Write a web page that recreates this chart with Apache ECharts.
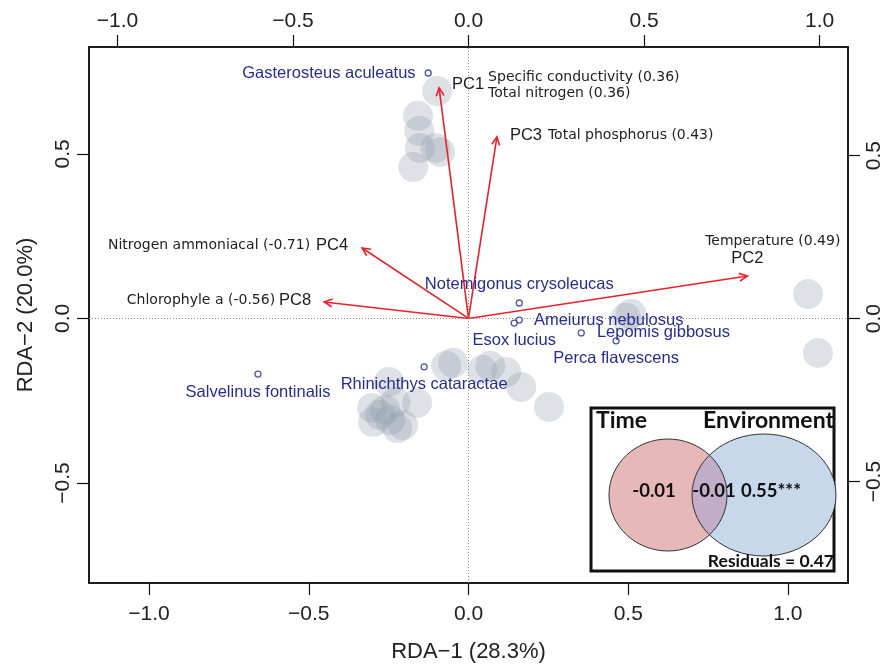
<!DOCTYPE html>
<html>
<head>
    <meta charset="UTF-8">
    <title>RDA biplot</title>
    <script type="text/javascript" src="https://cdn.jsdelivr.net/npm/echarts@6/dist/echarts.min.js"></script>
    <style>body{margin:0;background:#fff;}</style>
</head>
<body>
<div id="rda" style="width: 887px;height:664px;"></div>
<script>
    // site scores (grey discs)
    var siteX = [-0.098, -0.158, -0.154, -0.152, -0.104, -0.089, -0.173,
        -0.070, -0.048, 0.043, 0.068, 0.118, 0.165, 0.252,
        -0.249, -0.161, -0.229, -0.302, -0.261, -0.277, -0.299, -0.245, -0.205, -0.223,
        0.493, 0.509, 1.063, 1.094];
    var siteY = [0.691, 0.616, 0.570, 0.518, 0.518, 0.506, 0.460,
        -0.144, -0.135, -0.157, -0.144, -0.163, -0.208, -0.269,
        -0.193, -0.257, -0.254, -0.272, -0.278, -0.293, -0.315, -0.309, -0.324, -0.333,
        0.002, 0.014, 0.074, -0.105];

    // species scores
    var speciesNames = ['Gasterosteus aculeatus', 'Notemigonus crysoleucas', 'Ameiurus nebulosus', 'Esox lucius',
        'Lepomis gibbosus', 'Perca flavescens', 'Rhinichthys cataractae', 'Salvelinus fontinalis'];
    var speciesX = [-0.126, 0.159, 0.159, 0.143, 0.353, 0.462, -0.139, -0.659];
    var speciesY = [0.746, 0.047, -0.005, -0.014, -0.044, -0.068, -0.147, -0.169];

    // environmental arrows
    var arrowNames = ['PC1', 'PC3', 'PC4', 'PC8', 'PC2'];
    var arrowX = [-0.092, 0.089, -0.333, -0.452, 0.873];
    var arrowY = [0.701, 0.552, 0.214, 0.050, 0.129];
    var arrowVars = [
        ['Specific conductivity (0.36)', 'Total nitrogen (0.36)'],
        ['Total phosphorus (0.43)'],
        ['Nitrogen ammoniacal (-0.71)'],
        ['Chlorophyle a (-0.56)'],
        ['Temperature (0.49)']
    ];

    var tickValues = [-1, -0.5, 0, 0.5, 1];

    // variance partitioning inset
    var vennNames = ['Time', 'Environment'];
    var vennValues = ['-0.01', '-0.01', '0.55***'];
    var residualText = 'Residuals = 0.47';

    // label placement (layout only)
    var speciesLabelPos = ['left', 'top', 'right', 'bottom', 'right', 'bottom', 'bottom', 'bottom'];
    var speciesLabelDist = [9, 6, 11, 5, 12, 5, 5, 6];
    var arrowLayout = [
        {pc: [13, -3, 'left'], dx: 49, dy: [-10, 6], align: 'left'},
        {pc: [13, -1, 'left'], dx: 51, dy: [-1], align: 'left'},
        {pc: [-14, -3, 'right'], dx: -52, dy: [-3], align: 'right'},
        {pc: [-13, -2, 'right'], dx: -49, dy: [-2], align: 'right'},
        {pc: [0, -18, 'center'], dx: 93, dy: [-35], align: 'right'}
    ];

    var RED = '#e8222b';
    var BLUE = '#262d8e';

    function fmt(v) {
        return (v < 0 ? '\u2212' : '') + Math.abs(v).toFixed(1);
    }

    var tickText = {fontFamily: 'Liberation Sans', fontSize: 21, color: '#222'};

    function axisBase(pos, min, max, margin, rotate) {
        return {
            type: 'value', position: pos, min: min, max: max,
            splitLine: {show: false},
            axisLine: {show: true, onZero: false, lineStyle: {color: '#111', width: 1.5}},
            axisTick: {show: true, length: 12, customValues: tickValues, lineStyle: {color: '#111', width: 1.2}},
            axisLabel: {
                customValues: tickValues, formatter: fmt, margin: margin, rotate: rotate || 0,
                fontFamily: tickText.fontFamily, fontSize: tickText.fontSize, color: tickText.color
            }
        };
    }

    var xBottom = axisBase('bottom', -1.188, 1.188, 21);
    xBottom.name = 'RDA\u22121 (28.3%)';
    xBottom.nameLocation = 'middle';
    xBottom.nameGap = 58;
    xBottom.nameTextStyle = {fontFamily: 'Liberation Sans', fontSize: 22, color: '#222'};
    var xTop = axisBase('top', -1.081, 1.081, 15);
    var yLeft = axisBase('left', -0.804, 0.825, 15, 90);
    yLeft.name = 'RDA\u22122 (20.0%)';
    yLeft.nameLocation = 'middle';
    yLeft.nameGap = 52;
    yLeft.nameTextStyle = {fontFamily: 'Liberation Sans', fontSize: 22, color: '#222'};
    var yRight = axisBase('right', -0.811, 0.833, 16, 90);

    var sites = [];
    for (var i = 0; i < siteX.length; i++) {
        sites.push([siteX[i], siteY[i]]);
    }
    var species = [];
    for (var j = 0; j < speciesX.length; j++) {
        species.push({
            value: [speciesX[j], speciesY[j]],
            name: speciesNames[j],
            label: {position: speciesLabelPos[j], distance: speciesLabelDist[j]}
        });
    }
    var arrows = [];
    for (var k = 0; k < arrowX.length; k++) {
        arrows.push([arrowX[k], arrowY[k]]);
    }

    // venn inset geometry
    var vL = {cx: 668, cy: 495, rx: 59, ry: 56};
    var vR = {cx: 764, cy: 495, rx: 72, ry: 61};

    function inside(e, x, y) {
        var a = (x - e.cx) / e.rx, b = (y - e.cy) / e.ry;
        return a * a + b * b <= 1.0001;
    }

    function lens() {
        var pts = [];
        var n = 240, t, x, y;
        for (var s = 0; s <= n; s++) {
            t = -Math.PI / 2 + Math.PI * s / n;
            x = vL.cx + vL.rx * Math.cos(t);
            y = vL.cy + vL.ry * Math.sin(t);
            if (inside(vR, x, y)) pts.push([x, y]);
        }
        for (s = 0; s <= n; s++) {
            t = Math.PI / 2 + Math.PI * s / n;
            x = vR.cx + vR.rx * Math.cos(t);
            y = vR.cy + vR.ry * Math.sin(t);
            if (inside(vL, x, y)) pts.push([x, y]);
        }
        return pts;
    }

    var vennFont = 'Lato';
    var graphics = [
        {type: 'rect', shape: {x: 591, y: 408, width: 243, height: 163},
            style: {fill: '#fff', stroke: '#111', lineWidth: 3}, z: 100},
        {type: 'ellipse', shape: vL, style: {fill: '#e6b9b8', stroke: 'none'}, z: 101},
        {type: 'ellipse', shape: vR, style: {fill: '#c6d8ea', stroke: 'none'}, z: 101},
        {type: 'polygon', shape: {points: lens()}, style: {fill: '#c2aec8', stroke: 'none'}, z: 102},
        {type: 'ellipse', shape: vL, style: {fill: 'none', stroke: '#333', lineWidth: 1}, z: 103},
        {type: 'ellipse', shape: vR, style: {fill: 'none', stroke: '#333', lineWidth: 1}, z: 103},
        {type: 'text', x: 596, y: 421, z: 104, style: {text: vennNames[0], fill: '#111',
                font: 'bold 23px ' + vennFont, align: 'left', verticalAlign: 'middle'}},
        {type: 'text', x: 834, y: 421, z: 104, style: {text: vennNames[1], fill: '#111',
                font: 'bold 23px ' + vennFont, align: 'right', verticalAlign: 'middle'}},
        {type: 'text', x: 654, y: 491, z: 104, style: {text: vennValues[0], fill: '#111',
                font: 'bold 18.5px ' + vennFont, align: 'center', verticalAlign: 'middle'}},
        {type: 'text', x: 714, y: 491, z: 104, style: {text: vennValues[1], fill: '#111',
                font: 'bold 18.5px ' + vennFont, align: 'center', verticalAlign: 'middle'}},
        {type: 'text', x: 771, y: 491, z: 104, style: {text: vennValues[2], fill: '#111',
                font: 'bold 18.5px ' + vennFont, align: 'center', verticalAlign: 'middle'}},
        {type: 'text', x: 834, y: 561, z: 104, style: {text: residualText, fill: '#111',
                font: 'bold 17.5px ' + vennFont, align: 'right', verticalAlign: 'middle'}}
    ];

    var myChart = echarts.init(document.getElementById('rda'));
    myChart.setOption({
        backgroundColor: '#fff',
        animation: false,
        grid: {left: 89, right: 39, top: 47, bottom: 81, show: true, borderColor: '#111', borderWidth: 1.5,
            outerBoundsMode: 'none', containLabel: false},
        xAxis: [xBottom, xTop],
        yAxis: [yLeft, yRight],
        graphic: graphics,
        series: [
            {
                name: 'zero',
                type: 'scatter',
                data: [],
                markLine: {
                    silent: true,
                    symbol: 'none',
                    label: {show: false},
                    lineStyle: {color: '#8a8a8a', type: [1, 2], width: 1},
                    data: [{xAxis: 0}, {yAxis: 0}]
                }
            },
            {
                name: 'sites',
                type: 'scatter',
                symbolSize: 30,
                itemStyle: {color: 'rgba(148,156,174,0.38)'},
                data: sites,
                z: 2
            },
            {
                name: 'arrows',
                type: 'custom',
                z: 4,
                clip: false,
                data: arrows,
                renderItem: function (params, api) {
                    var i = params.dataIndex;
                    var o = api.coord([0, 0]);
                    var p = api.coord([api.value(0), api.value(1)]);
                    var ang = Math.atan2(p[1] - o[1], p[0] - o[0]);
                    var L = 9, a = Math.PI / 7;
                    var h1 = [p[0] - L * Math.cos(ang - a), p[1] - L * Math.sin(ang - a)];
                    var h2 = [p[0] - L * Math.cos(ang + a), p[1] - L * Math.sin(ang + a)];
                    var lay = arrowLayout[i];
                    var kids = [
                        {type: 'line', shape: {x1: o[0], y1: o[1], x2: p[0], y2: p[1]},
                            style: {stroke: RED, lineWidth: 1.6}},
                        {type: 'polyline', shape: {points: [h1, p, h2]},
                            style: {stroke: RED, fill: null, lineWidth: 1.6}},
                        {type: 'text', x: p[0] + lay.pc[0], y: p[1] + lay.pc[1],
                            style: {text: arrowNames[i], fill: '#1a1a1a', fontFamily: 'Liberation Sans', fontSize: 16.5,
                                align: lay.pc[2], verticalAlign: 'middle'}}
                    ];
                    for (var m = 0; m < arrowVars[i].length; m++) {
                        kids.push({type: 'text', x: p[0] + lay.dx, y: p[1] + lay.dy[m],
                            style: {text: arrowVars[i][m], fill: '#222', fontFamily: 'DejaVu Sans', fontSize: 14,
                                align: lay.align, verticalAlign: 'middle'}});
                    }
                    return {type: 'group', children: kids};
                }
            },
            {
                name: 'species',
                type: 'scatter',
                z: 5,
                symbol: 'circle',
                symbolSize: 6,
                itemStyle: {color: '#fff', borderColor: BLUE, borderWidth: 1.3},
                label: {
                    show: true,
                    formatter: '{b}',
                    color: BLUE,
                    textBorderWidth: 0,
                    opacity: 1,
                    fontFamily: 'Liberation Sans',
                    fontSize: 16.5
                },
                data: species
            }
        ]
    });
</script>
</body>
</html>
